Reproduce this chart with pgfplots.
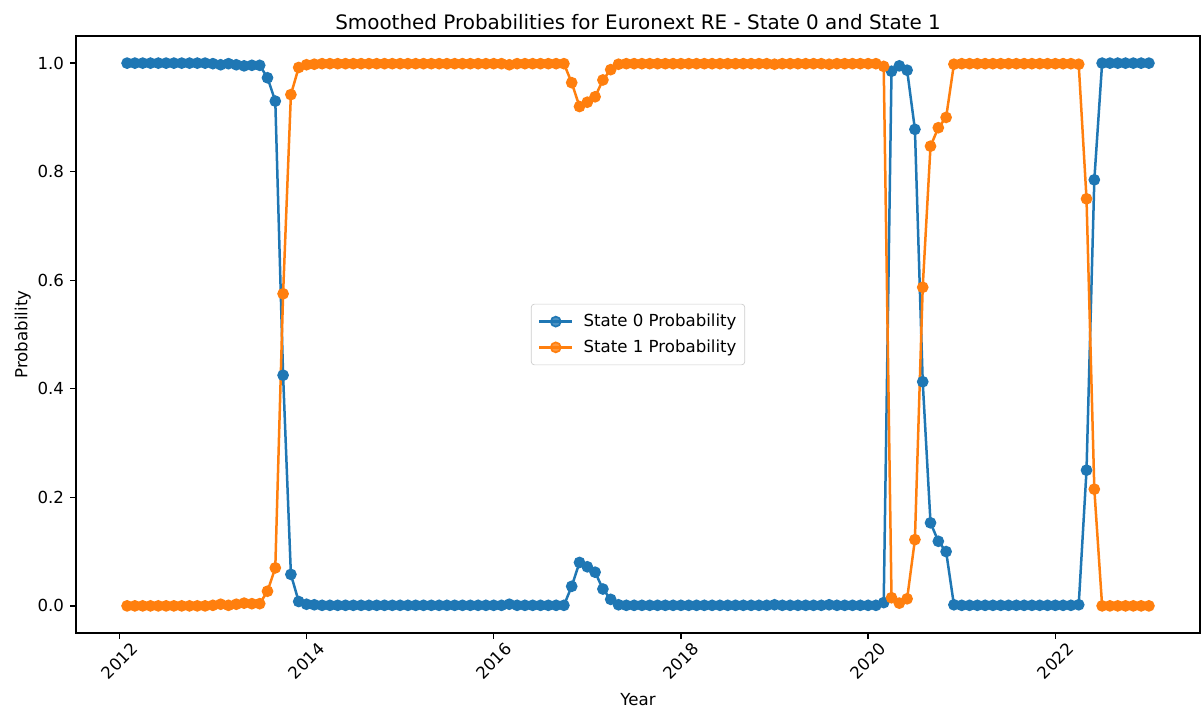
\documentclass[border=0pt]{standalone}
\usepackage{fontspec}
\setmainfont{DejaVu Sans}
\usepackage{pgfplots}
\pgfplotsset{compat=1.18}
\usepackage{pgfplotstable}
\definecolor{tabblue}{HTML}{1F77B4}
\definecolor{taborange}{HTML}{FF7F0E}

\pgfplotstableread{
m s0 s1
1 1.000 0.000
2 1.000 0.000
3 1.000 0.000
4 1.000 0.000
5 1.000 0.000
6 1.000 0.000
7 1.000 0.000
8 1.000 0.000
9 1.000 0.000
10 1.000 0.000
11 1.000 0.000
12 0.999 0.001
13 0.997 0.003
14 0.999 0.001
15 0.997 0.003
16 0.995 0.005
17 0.996 0.004
18 0.996 0.004
19 0.973 0.027
20 0.930 0.070
21 0.425 0.575
22 0.058 0.942
23 0.008 0.992
24 0.003 0.997
25 0.002 0.998
26 0.001 0.999
27 0.001 0.999
28 0.001 0.999
29 0.001 0.999
30 0.001 0.999
31 0.001 0.999
32 0.001 0.999
33 0.001 0.999
34 0.001 0.999
35 0.001 0.999
36 0.001 0.999
37 0.001 0.999
38 0.001 0.999
39 0.001 0.999
40 0.001 0.999
41 0.001 0.999
42 0.001 0.999
43 0.001 0.999
44 0.001 0.999
45 0.001 0.999
46 0.001 0.999
47 0.001 0.999
48 0.001 0.999
49 0.001 0.999
50 0.003 0.997
51 0.001 0.999
52 0.001 0.999
53 0.001 0.999
54 0.001 0.999
55 0.001 0.999
56 0.001 0.999
57 0.001 0.999
58 0.036 0.964
59 0.080 0.920
60 0.072 0.928
61 0.062 0.938
62 0.031 0.969
63 0.012 0.988
64 0.002 0.998
65 0.001 0.999
66 0.001 0.999
67 0.001 0.999
68 0.001 0.999
69 0.001 0.999
70 0.001 0.999
71 0.001 0.999
72 0.001 0.999
73 0.001 0.999
74 0.001 0.999
75 0.001 0.999
76 0.001 0.999
77 0.001 0.999
78 0.001 0.999
79 0.001 0.999
80 0.001 0.999
81 0.001 0.999
82 0.001 0.999
83 0.001 0.999
84 0.002 0.998
85 0.001 0.999
86 0.001 0.999
87 0.001 0.999
88 0.001 0.999
89 0.001 0.999
90 0.001 0.999
91 0.002 0.998
92 0.001 0.999
93 0.001 0.999
94 0.001 0.999
95 0.001 0.999
96 0.001 0.999
97 0.001 0.999
98 0.006 0.994
99 0.985 0.015
100 0.995 0.005
101 0.987 0.013
102 0.878 0.122
103 0.413 0.587
104 0.153 0.847
105 0.119 0.881
106 0.100 0.900
107 0.002 0.998
108 0.001 0.999
109 0.001 0.999
110 0.001 0.999
111 0.001 0.999
112 0.001 0.999
113 0.001 0.999
114 0.001 0.999
115 0.001 0.999
116 0.001 0.999
117 0.001 0.999
118 0.001 0.999
119 0.001 0.999
120 0.001 0.999
121 0.001 0.999
122 0.001 0.999
123 0.002 0.998
124 0.250 0.750
125 0.785 0.215
126 1.000 0.000
127 1.000 0.000
128 1.000 0.000
129 1.000 0.000
130 1.000 0.000
131 1.000 0.000
132 1.000 0.000
}\datatable

\begin{document}
\begin{tikzpicture}
\useasboundingbox (-45.6bp,-48.6bp) rectangle (675.6bp,379.8bp);
\begin{axis}[
  at={(0,0)}, anchor=south west,
  scale only axis, width=674.4bp, height=358.2bp,
  xmin=-5.55, xmax=138.55, ymin=-0.05, ymax=1.05,
  xtick={0,24,48,72,96,120},
  xticklabels={2012,2014,2016,2018,2020,2022},
  ytick={0,0.2,0.4,0.6,0.8,1},
  yticklabel style={/pgf/number format/fixed, /pgf/number format/fixed zerofill, /pgf/number format/precision=1, anchor=east, inner sep=0pt, xshift=-3.5bp},
  /pgf/number format/assume math mode=true,
  tick align=outside, tick pos=left,
  major tick length=3.5bp,
  every tick/.style={black, line width=0.8bp},
  axis line style={black, line width=0.8bp},
  ticklabel style={font=\fontsize{10}{12}\selectfont},
  xticklabel style={yshift=-13.2bp, rotate=45, anchor=center},
  xlabel={Year}, ylabel={Probability},
  every axis x label/.style={at={(axis description cs:0.5,-0.1001)}, anchor=north, inner sep=0pt, font=\fontsize{10}{12}\selectfont},
  every axis y label/.style={at={(axis description cs:-0.0399,0.5)}, rotate=90, anchor=south, inner sep=0pt, font=\fontsize{10}{12}\selectfont},
  title={Smoothed Probabilities for Euronext RE - State 0 and State 1},
  every axis title/.style={at={(axis description cs:0.5,1)}, anchor=base, yshift=4bp, inner sep=0pt, font=\fontsize{12}{14}\selectfont},
  legend cell align=left,
  legend style={at={(0.5,0.5)}, anchor=center, draw=black!20, rounded corners=2pt,
    fill=white, fill opacity=0.8, text opacity=1, draw opacity=1,
    font=\fontsize{10}{12}\selectfont, inner xsep=4pt, inner ysep=5pt, row sep=4.4pt,
    nodes={inner sep=1pt},
    /tikz/every odd column/.append style={column sep=5pt}},
  legend image code/.code={
    \draw[mark repeat=2,mark phase=2,#1] plot coordinates {(0bp,0bp) (10bp,0bp) (20bp,0bp)};
  },
]
\addplot[tabblue, line width=1.5bp, mark=*, mark size=3bp, mark options={solid, fill=tabblue, draw=tabblue, line width=1bp}] table[x=m, y=s0]{\datatable};
\addlegendentry{State 0 Probability}
\addplot[taborange, line width=1.5bp, mark=*, mark size=3bp, mark options={solid, fill=taborange, draw=taborange, line width=1bp}] table[x=m, y=s1]{\datatable};
\addlegendentry{State 1 Probability}
\end{axis}
\end{tikzpicture}
\end{document}
